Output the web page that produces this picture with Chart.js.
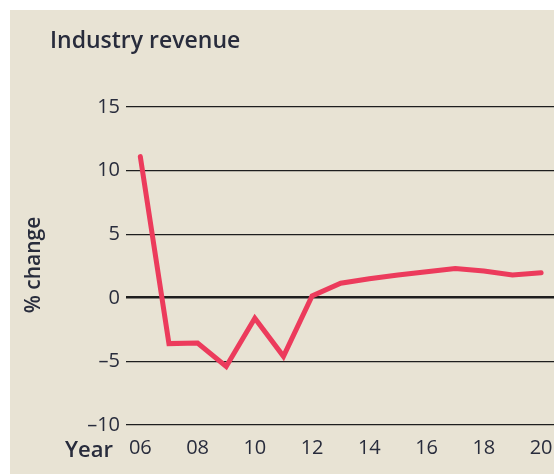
<!DOCTYPE html>
<html>
<head>
<meta charset="utf-8">
<script src="https://cdn.jsdelivr.net/npm/chart.js@4"></script>
<style>
	html, body { margin: 0; padding: 0; background: #ffffff; }
	#wrap { position: absolute; left: 10px; top: 10px; width: 544px; height: 464px; background: #e8e3d4; }
</style>
</head>
<body>
<div id="wrap"><canvas id="rev_chart" width="544" height="464"></canvas></div>
<script>
// revenue, % change on previous year
const years = [2006, 2007, 2008, 2009, 2010, 2011, 2012, 2013, 2014, 2015, 2016, 2017, 2018, 2019, 2020];
const revenue = [11.1, -3.6, -3.55, -5.4, -1.6, -4.6, 0.15, 1.15, 1.5, 1.8, 2.05, 2.3, 2.1, 1.8, 1.97];
const xTicks = [2006, 2008, 2010, 2012, 2014, 2016, 2018, 2020];
const yTicks = [-10, -5, 0, 5, 10, 15];

const textCol = '#282c3c';
const fontFam = '"Open Sans", "Noto Sans", sans-serif';

// title, y axis title and "Year" label
const labelsPlugin = {
	id: 'extraLabels',
	afterDraw: (chart) => {
		const c = chart.ctx;
		c.save();
		c.fillStyle = textCol;
		c.textAlign = 'left';
		c.textBaseline = 'alphabetic';
		c.font = '600 23px ' + fontFam;
		c.fillText('Industry revenue', 40, 38);

		c.font = '600 22px ' + fontFam;
		c.fillText('Year', 55, 447);

		c.translate(24, 255);
		c.rotate(-Math.PI / 2);
		c.textAlign = 'center';
		c.textBaseline = 'middle';
		c.font = '600 21px ' + fontFam;
		c.fillText('% change', 0, 0);
		c.restore();
	}
};

let chartOptions = {
	responsive: false,
	animation: false,
	layout: {
		padding: { top: 97, left: 0, right: 0, bottom: 0 }
	},
	scales: {
		x: {
			type: 'linear',
			min: 2005.5,
			max: 2020.45,
			afterBuildTicks: (scale) => {
				scale.ticks = xTicks.map(v => ({ value: v }));
			},
			afterFit: (scale) => {
				scale.height = 49;
				scale.paddingLeft = 0;
				scale.paddingRight = 0;
			},
			grid: { display: false, drawTicks: false },
			border: { display: false },
			ticks: {
				padding: 11,
				color: textCol,
				font: { family: fontFam, size: 20 },
				maxRotation: 0,
				autoSkip: false,
				callback: (v) => String(v % 100).padStart(2, '0'),
			},
		},
		y: {
			min: -10,
			max: 15,
			afterBuildTicks: (scale) => {
				scale.ticks = yTicks.map(v => ({ value: v }));
			},
			afterFit: (scale) => {
				scale.width = 116;
				scale.paddingTop = 0;
				scale.paddingBottom = 0;
			},
			grid: {
				drawTicks: false,
				color: '#1e1e1e',
				lineWidth: (ctx) => (ctx.tick && ctx.tick.value === 0) ? 2.6 : 1.3,
			},
			border: { display: false },
			ticks: {
				padding: 6,
				color: textCol,
				font: { family: fontFam, size: 20 },
				callback: (v) => (v < 0 ? '\u2013' + Math.abs(v) : String(v)),
			},
		},
	},
	plugins: {
		legend: { display: false },
		tooltip: { enabled: false },
	},
	elements: {
		point: { radius: 0 }
	},
};

const ctx = document.getElementById('rev_chart');
let revChart = new Chart(ctx, {
	type: 'line',
	data: {
		datasets: [{
			data: years.map((y, i) => ({ x: y, y: revenue[i] })),
			borderColor: '#ec3b5c',
			borderWidth: 5,
			borderCapStyle: 'round',
			borderJoinStyle: 'miter',
			tension: 0,
		}]
	},
	options: chartOptions,
	plugins: [labelsPlugin],
});
</script>
</body>
</html>
